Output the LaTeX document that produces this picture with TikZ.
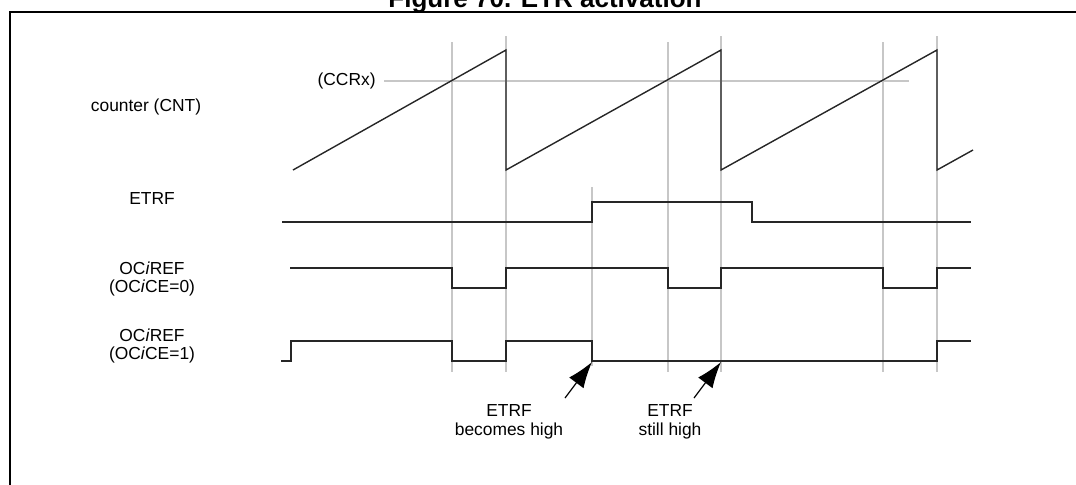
\documentclass[tikz,border=0pt]{standalone}
\usepackage{fontspec}
\setmainfont{Liberation Sans}
\usetikzlibrary{arrows.meta, positioning}

\begin{document}
\begin{tikzpicture}[x=0.5pt, y=-0.5pt,
    wave/.style={line width=0.7pt, black!85},
    guide/.style={line width=0.7pt, black!22},
    lab/.style={align=center, font=\fontsize{8.7}{9}\selectfont, inner sep=0pt},
    arr/.style={-{Latex[length=13pt, width=9pt]}, line width=0.6pt}]
  \useasboundingbox (0,0) rectangle (1076,484);
  % frame and title
  \draw[line width=1.2pt] (10,490) -- (10,12) -- (1080,12);
  \node[font=\bfseries\fontsize{13}{13}\selectfont, anchor=base, inner sep=0pt] (title) at (545,7) {Figure 70. ETR activation};
  % grey guides
  \foreach \x in {452,668,883}
    \draw[guide] (\x,42) -- (\x,372);
  \foreach \x in {506,721,937}
    \draw[guide] (\x,36) -- (\x,372);
  \draw[guide] (592,187) -- (592,366);
  \coordinate (ccrstart) at (384,81);
  \draw[guide] (ccrstart) -- (909,81);
  % waveforms
  \draw[wave] (293,170) -- (506,50) -- (506,170) -- (721,50) -- (721,170) -- (937,50) -- (937,170) -- (973,150);
  \draw[wave] (282,222) -- (592,222) -- (592,202) -- (752,202) -- (752,222) -- (971,222);
  \draw[wave] (290,268) -- (452,268) -- (452,288) -- (506,288) -- (506,268) -- (668,268) -- (668,288)
    -- (721,288) -- (721,268) -- (883,268) -- (883,288) -- (937,288) -- (937,268) -- (971,268);
  \draw[wave] (281,361) -- (291,361) -- (291,341) -- (452,341) -- (452,361) -- (506,361) -- (506,341)
    -- (592,341) -- (592,361) -- (937,361) -- (937,341) -- (971,341);
  % signal names
  \node[lab] (cnt) at (146,107) {counter (CNT)};
  \node[lab, left=4pt of ccrstart] (ccr) {(CCRx)};
  \node[lab] (etrf) at (152,199) {ETRF};
  \node[lab] (oc0) at (152,279) {OC\textit{i}REF\\(OC\textit{i}CE=0)};
  \node[lab] (oc1) at (152,346) {OC\textit{i}REF\\(OC\textit{i}CE=1)};
  % notes
  \node[lab, font=\fontsize{8.7}{9.5}\selectfont] (rise) at (509,422) {ETRF\\becomes high};
  \node[lab, font=\fontsize{8.7}{9.5}\selectfont] (still) at (670,422) {ETRF\\still high};
  \coordinate (hit1) at (592,362);
  \coordinate (hit2) at (721,362);
  \coordinate (tail1) at (565,398);
  \coordinate (tail2) at (694,398);
  \draw[arr] (tail1) -- (hit1);
  \draw[arr] (tail2) -- (hit2);
\end{tikzpicture}
\end{document}
